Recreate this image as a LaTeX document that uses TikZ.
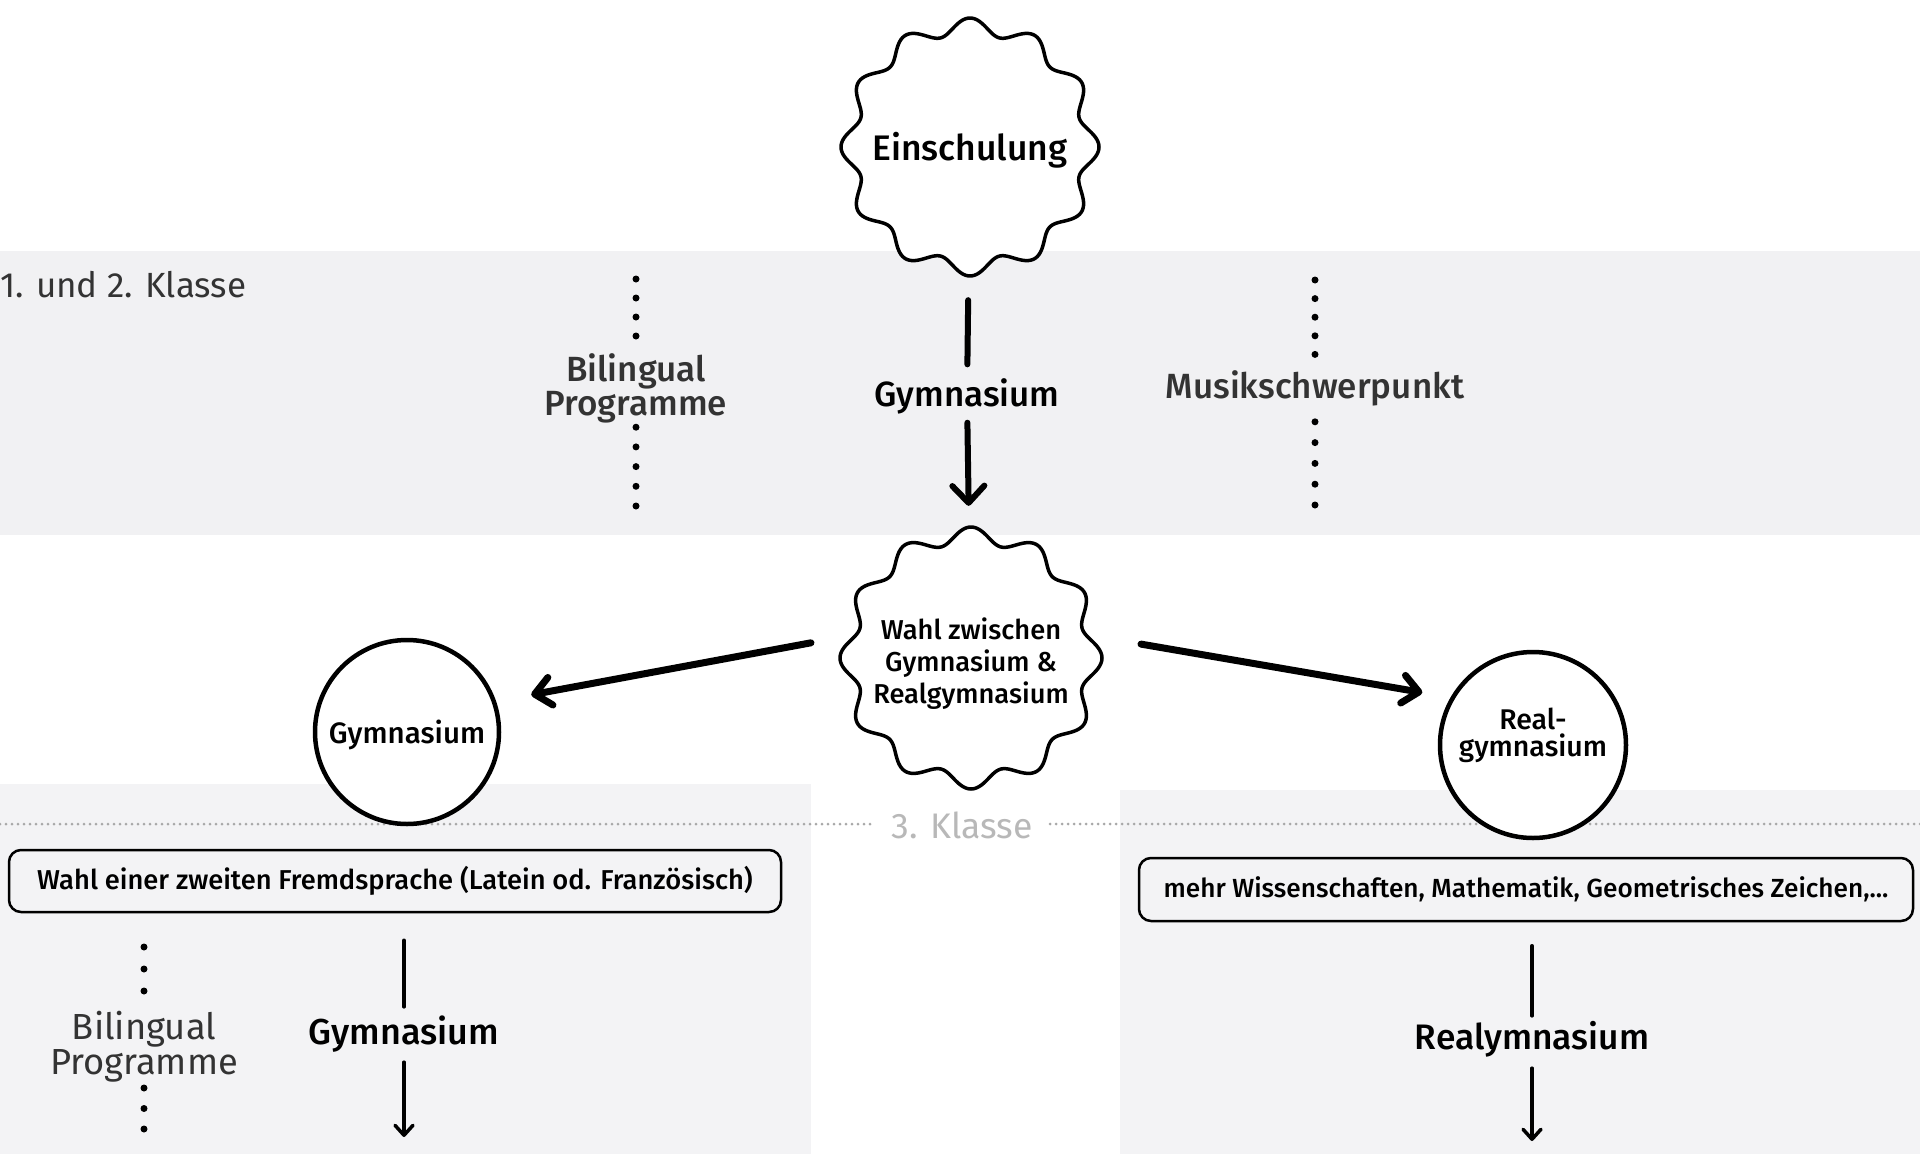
\documentclass[tikz,border=0pt]{standalone}
\usepackage{fontspec}
\setmainfont{Fira Sans}
\newfontfamily\medfont{Fira Sans Medium}
\usetikzlibrary{arrows.meta}
\definecolor{band}{HTML}{F1F1F3}
\definecolor{bandlow}{HTML}{F3F3F5}
\definecolor{txtgrey}{HTML}{333333}
\definecolor{lightgrey}{HTML}{B8B8B8}
\definecolor{dotgrey}{HTML}{A8A8A8}
\newcommand\wavyoutline[3]{%
  \draw[blobline, shift={(#1.center)}] plot[domain=0:360, samples=421] (\x:{#2+#3*cos(12*\x)}) -- cycle;}
\begin{document}
\begin{tikzpicture}[x=1pt,y=-1pt,
  blobline/.style={line width=3.5pt, fill=white, line join=round},
  blobnode/.style={circle, inner sep=0pt, align=center},
  ringnode/.style={circle, draw, line width=4.5pt, fill=white, inner sep=0pt, align=center},
  biglbl/.style={font=\medfont\fontsize{35}{34}\selectfont, inner sep=0pt, align=center},
  onelbl/.style={biglbl, text height=26.6pt, text depth=8.4pt},
  lowlbl/.style={inner sep=0pt, text height=27pt, text depth=8.5pt},
  textbox/.style={draw, rounded corners=12pt, line width=2.5pt, inner sep=0pt},
  thickline/.style={line width=6pt, line cap=round},
  thickarrow/.style={thickline, -{Straight Barb[length=17pt, width=32pt, round]}},
  sidearrow/.style={line width=7pt, line cap=round, -{Straight Barb[length=16pt, width=28pt, round]}},
  medline/.style={line width=3.5pt, line cap=round},
  medarrow/.style={medline, -{Straight Barb[length=10pt, width=18pt, round]}},
  dotsbase/.style={line width=7pt, line cap=round},
  dotsUA/.style={dotsbase, dash pattern=on 0pt off 19pt},
  dotsUB/.style={dotsbase, dash pattern=on 0pt off 19.7pt},
  dotsMA/.style={dotsbase, dash pattern=on 0pt off 18.6pt},
  dotsMB/.style={dotsbase, dash pattern=on 0pt off 20.8pt},
  dotsLA/.style={dotsbase, dash pattern=on 0pt off 22pt},
  dotsLB/.style={dotsbase, dash pattern=on 0pt off 20.5pt},
  gridline/.style={line width=3pt, line cap=round, dash pattern=on 0pt off 6pt, color=dotgrey}
]
\useasboundingbox[fill=white] (0,0) rectangle (1920,1154);
% bands
\fill[band] (0,251) rectangle (1920,535);
\fill[bandlow] (0,784) rectangle (811,1154);
\fill[bandlow] (1120,790) rectangle (1920,1154);

% class labels and grid line
\node[anchor=west, inner sep=0pt, text=txtgrey, font=\fontsize{35}{34}\selectfont] (k12) at (0,285) {1. und 2. Klasse};
\node[inner sep=0pt, inner xsep=16pt, text=lightgrey, font=\fontsize{35.5}{34}\selectfont] (k3) at (962,825) {3. Klasse};
\coordinate (gl) at (0,824);
\coordinate (gr) at (1920,824);
\draw[gridline] (gl) -- (gl -| k3.west);
\draw[gridline] (gr) -- (gr -| k3.east);

% blobs
\node[blobnode, minimum size=262pt] (ein) at (970,147) {};
\wavyoutline{ein}{121}{8}
\node[font=\medfont\fontsize{35.5}{34}\selectfont, inner sep=0pt] (eintext) at ([yshift=-3pt]ein.center) {Einschulung};

\node[blobnode, minimum size=264pt] (wahl) at (971,658) {};
\wavyoutline{wahl}{123}{8}
\node[font=\medfont\fontsize{27.3}{32}\selectfont, inner sep=0pt, align=center] (wahltext) at ([yshift=-6pt]wahl.center) {Wahl zwischen\\Gymnasium \&\\Realgymnasium};

% upper band
\node[biglbl, text=txtgrey] (bilA) at (636,388) {Bilingual\\Programme};
\node[onelbl] (gymA) at (967,397) {Gymnasium};
\node[onelbl, text=txtgrey] (mus) at (1315,389) {Musikschwerpunkt};
\coordinate (bilAtop) at (636,279);
\coordinate (bilAbot) at (636,506);
\coordinate (mustop) at (1315,280);
\coordinate (musbot) at (1315,505);
\draw[dotsUA, shorten >=12.5pt] (bilAtop) -- (bilA);
\draw[dotsUB] (bilAbot) -- (bilA);
\draw[dotsMA, shorten >=12.5pt] (mustop) -- (mus);
\draw[dotsMB, shorten >=10.5pt] (musbot) -- (mus);
\draw[thickline, shorten <=22pt, shorten >=15pt] (ein) -- (gymA);
\draw[thickarrow, shorten <=8pt, shorten >=20pt] (gymA) -- (wahl);

% circles
\node[ringnode, minimum size=184pt] (gymC) at (407,732) {};
\node[font=\medfont\fontsize{29.5}{28}\selectfont, inner sep=0pt] (gymCtext) at ([yshift=-2.5pt]gymC.center) {Gymnasium};
\node[ringnode, minimum size=186pt] (realC) at (1533,745) {};
\node[font=\medfont\fontsize{28.5}{27}\selectfont, inner sep=0pt, align=center] (realCtext) at ([yshift=10pt]realC.center) {Real-\\gymnasium};
\draw[sidearrow, shorten <=30pt, shorten >=35.7pt] (wahl.171) -- (gymC.19.3);
\draw[sidearrow, shorten <=40pt, shorten >=28.6pt] (wahl.9.2) -- (realC.150.4);

% boxes
\node[textbox, minimum width=772pt, minimum height=62pt, font=\medfont\fontsize{27.3}{28}\selectfont] (boxL) at (395,881) {Wahl einer zweiten Fremdsprache (Latein od. Französisch)};
\node[textbox, minimum width=774pt, minimum height=63pt, font=\medfont\fontsize{26.2}{28}\selectfont] (boxR) at (1526,889.5) {mehr Wissenschaften, Mathematik, Geometrisches Zeichen,...};

% lower left
\node[font=\fontsize{36.3}{35}\selectfont, inner sep=0pt, align=center, text=txtgrey] (bilB) at (144,1047) {Bilingual\\Programme};
\coordinate (bilBtop) at (144,947);
\coordinate (bilBbot) at (144,1129);
\draw[dotsLA, shorten >=15.4pt] (bilBtop) -- (bilB);
\draw[dotsLB, shorten >=0.4pt] (bilBbot) -- (bilB);
\node[lowlbl, font=\medfont\fontsize{36}{35}\selectfont] (gymB) at (404,1035) {Gymnasium};
\coordinate (endL) at (404,1137);
\draw[medline, shorten <=27pt, shorten >=10.2pt] (boxL.south -| gymB) -- (gymB);
\draw[medarrow, shorten <=9.2pt] (gymB) -- (endL);

% lower right
\node[lowlbl, font=\medfont\fontsize{35.4}{35}\selectfont] (realB) at (1532,1040) {Realymnasium};
\coordinate (endR) at (1532,1141);
\draw[medline, shorten <=23.5pt, shorten >=6.2pt] (boxR.south -| realB) -- (realB);
\draw[medarrow, shorten <=10.2pt] (realB) -- (endR);
\end{tikzpicture}
\end{document}
